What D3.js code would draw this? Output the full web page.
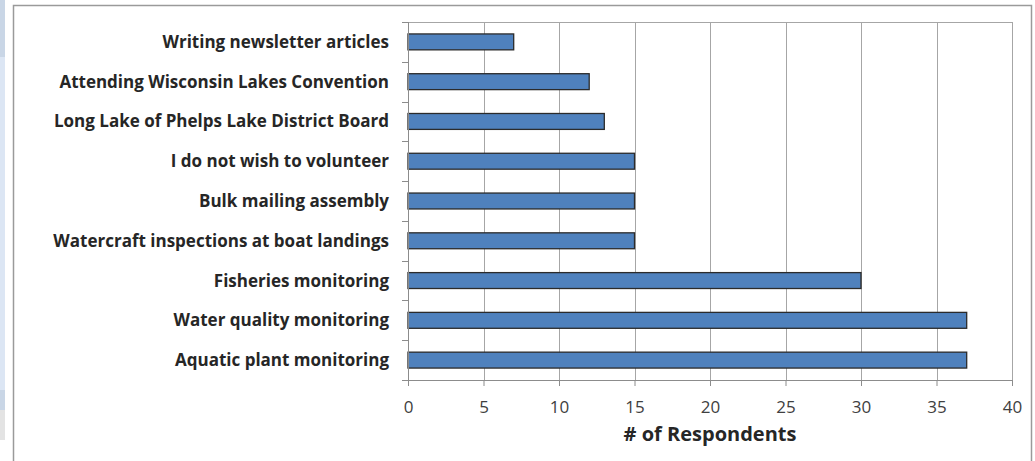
<!DOCTYPE html>
<html>
<head>
<meta charset="utf-8">
<script src="https://cdn.jsdelivr.net/npm/d3@7"></script>
<style>
  body { margin: 0; background: #fff; }
  svg { display: block; }
</style>
</head>
<body>
<script>
// data
var categories = [
    "Writing newsletter articles",
    "Attending Wisconsin Lakes Convention",
    "Long Lake of Phelps Lake District Board",
    "I do not wish to volunteer",
    "Bulk mailing assembly",
    "Watercraft inspections at boat landings",
    "Fisheries monitoring",
    "Water quality monitoring",
    "Aquatic plant monitoring"
];
var respondents = [7, 12, 13, 15, 15, 15, 30, 37, 37];
var xTicks = [0, 5, 10, 15, 20, 25, 30, 35, 40];
var axisTitle = "# of Respondents";

// set up
var outerWidth = 1035,
    outerHeight = 461,
    plot = { left: 408, right: 1012, top: 22, bottom: 380 },
    font = "'Open Sans', sans-serif";

var svg = d3.select("body")
    .append("svg")
    .attr("width", outerWidth)
    .attr("height", outerHeight);

// bits of the window behind the chart on the left
svg.append("rect").attr("x", 0).attr("y", 0).attr("width", 5).attr("height", 57).style("fill", "#c9d6e6");
svg.append("rect").attr("x", 0).attr("y", 57).attr("width", 5).attr("height", 333).style("fill", "#dce6f4");
svg.append("rect").attr("x", 0).attr("y", 390).attr("width", 5).attr("height", 20).style("fill", "#c9d6e6");
svg.append("rect").attr("x", 0).attr("y", 410).attr("width", 5).attr("height", 30).style("fill", "#e3e3e3");

// chart frame
svg.append("path")
    .attr("d", "M13.5,470V5.5H1031.5V470")
    .style("fill", "none")
    .style("stroke", "#9a9a9a")
    .style("stroke-width", 1.5);

var x = d3.scaleLinear()
    .domain([0, 40])
    .range([plot.left, plot.right]);

var y = d3.scaleBand()
    .domain(categories)
    .range([plot.top, plot.bottom])
    .paddingInner(0.6)
    .paddingOuter(0.3);

// band edges for the category tick marks
var band = (plot.bottom - plot.top) / categories.length;

// gridlines
svg.append("g")
    .selectAll("line")
    .data(xTicks.slice(1))
    .enter()
    .append("line")
    .attr("x1", function(d) { return Math.round(x(d)) + 0.5; })
    .attr("x2", function(d) { return Math.round(x(d)) + 0.5; })
    .attr("y1", plot.top)
    .attr("y2", plot.bottom)
    .style("stroke", "#a6a6a6")
    .style("stroke-width", 1);

// top border of plot area
svg.append("line")
    .attr("x1", plot.left - 6).attr("x2", plot.right)
    .attr("y1", plot.top + 0.5).attr("y2", plot.top + 0.5)
    .style("stroke", "#a6a6a6");

// bars
svg.selectAll(".bar")
    .data(respondents)
    .enter()
    .append("rect")
    .attr("class", "bar")
    .attr("x", x(0))
    .attr("y", function(d, i) { return y(categories[i]); })
    .attr("width", function(d) { return x(d) - x(0); })
    .attr("height", y.bandwidth())
    .style("fill", "#4f81bd")
    .style("stroke", "#2b2b2b")
    .style("stroke-width", 1.3);

// x axis
var xAxis = d3.axisBottom(x)
    .tickValues(xTicks)
    .tickSize(6)
    .tickPadding(15);

var gx = svg.append("g")
    .attr("transform", "translate(0," + plot.bottom + ")")
    .call(xAxis);
gx.select(".domain").style("stroke", "#8c8c8c");
gx.selectAll(".tick line").style("stroke", "#8c8c8c");
gx.selectAll("text")
    .attr("font-family", font)
    .attr("font-size", "17px")
    .style("fill", "#404040");

// y axis line and tick marks
svg.append("line")
    .attr("x1", plot.left + 0.5).attr("x2", plot.left + 0.5)
    .attr("y1", plot.top).attr("y2", plot.bottom)
    .style("stroke", "#8c8c8c");

svg.append("g")
    .selectAll("line")
    .data(d3.range(categories.length + 1))
    .enter()
    .append("line")
    .attr("x1", plot.left - 6)
    .attr("x2", plot.left)
    .attr("y1", function(i) { return Math.round(plot.top + i * band) + 0.5; })
    .attr("y2", function(i) { return Math.round(plot.top + i * band) + 0.5; })
    .style("stroke", "#8c8c8c");

// category labels
svg.append("g")
    .selectAll("text")
    .data(categories)
    .enter()
    .append("text")
    .attr("x", 389)
    .attr("y", function(d) { return y(d) + y.bandwidth() / 2; })
    .attr("dy", "0.35em")
    .style("text-anchor", "end")
    .attr("font-family", font)
    .attr("font-size", "17px")
    .attr("font-weight", "700")
    .style("fill", "#262626")
    .text(function(d) { return d; });

// x axis title
svg.append("text")
    .attr("x", (plot.left + plot.right) / 2)
    .attr("y", 441)
    .style("text-anchor", "middle")
    .attr("font-family", font)
    .attr("font-size", "20px")
    .attr("font-weight", "700")
    .style("fill", "#262626")
    .text(axisTitle);
</script>
</body>
</html>
